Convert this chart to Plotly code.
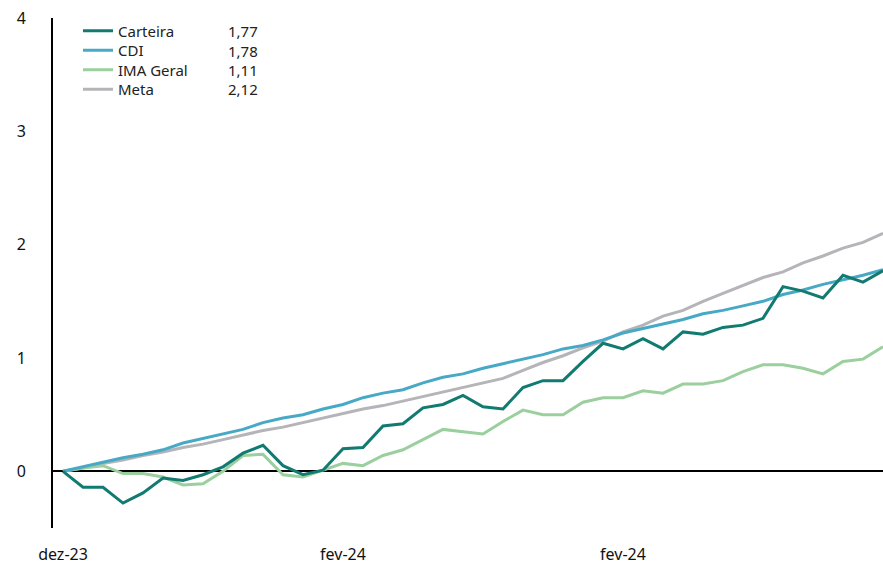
import plotly.graph_objects as go

# ---- data ----
idx = list(range(42))
tick_pos = [0, 14, 28]
tick_labels = ["dez-23", "fev-24", "fev-24"]

carteira = [0, -0.14, -0.14, -0.28, -0.19, -0.06, -0.08, -0.03, 0.04, 0.16, 0.23, 0.05, -0.03, 0.01,
            0.20, 0.21, 0.40, 0.42, 0.56, 0.59, 0.67, 0.57, 0.55, 0.74, 0.80, 0.80, 0.97, 1.13,
            1.08, 1.17, 1.08, 1.23, 1.21, 1.27, 1.29, 1.35, 1.63, 1.59, 1.53, 1.73, 1.67, 1.77]
cdi = [0, 0.04, 0.08, 0.12, 0.15, 0.19, 0.25, 0.29, 0.33, 0.37, 0.43, 0.47, 0.50, 0.55,
       0.59, 0.65, 0.69, 0.72, 0.78, 0.83, 0.86, 0.91, 0.95, 0.99, 1.03, 1.08, 1.11, 1.16,
       1.22, 1.26, 1.30, 1.34, 1.39, 1.42, 1.46, 1.50, 1.56, 1.60, 1.65, 1.69, 1.73, 1.78]
ima_geral = [0, 0.03, 0.05, -0.02, -0.02, -0.05, -0.12, -0.11, 0.0, 0.14, 0.15, -0.03, -0.05, 0.01,
             0.07, 0.05, 0.14, 0.19, 0.28, 0.37, 0.35, 0.33, 0.44, 0.54, 0.50, 0.50, 0.61, 0.65,
             0.65, 0.71, 0.69, 0.77, 0.77, 0.80, 0.88, 0.94, 0.94, 0.91, 0.86, 0.97, 0.99, 1.10]
meta = [0, 0.03, 0.07, 0.10, 0.14, 0.17, 0.21, 0.24, 0.28, 0.32, 0.36, 0.39, 0.43, 0.47,
        0.51, 0.55, 0.58, 0.62, 0.66, 0.70, 0.74, 0.78, 0.82, 0.89, 0.96, 1.02, 1.09, 1.15,
        1.23, 1.29, 1.37, 1.42, 1.50, 1.57, 1.64, 1.71, 1.76, 1.84, 1.90, 1.97, 2.02, 2.10]

series_names = ["Carteira", "CDI", "IMA Geral", "Meta"]
series_values = [carteira, cdi, ima_geral, meta]
legend_values = ["1,77", "1,78", "1,11", "2,12"]
colors = ["#117a71", "#47a9c5", "#9bcf9e", "#b4b4b9"]

FONT = "Noto Sans"

W, H = 883, 563
ml, mr, mt, mb = 53, 0, 18, 35
pw = W - ml - mr
ph = H - mt - mb

legend_ids = ["legend", "legend2", "legend3", "legend4"]
row_y = [31, 50.5, 70, 89.5]  # pixel centres of legend rows

fig = go.Figure()
# draw order: Meta, IMA, CDI, Carteira (Carteira on top)
for k in [3, 2, 1, 0]:
    fig.add_trace(go.Scatter(
        x=idx, y=series_values[k], mode="lines", name=series_names[k],
        line=dict(color=colors[k], width=3), legend=legend_ids[k],
    ))

layout_legends = {}
for k, lid in enumerate(legend_ids):
    layout_legends[lid] = dict(
        x=(78 - ml) / pw, y=1 + (mt - row_y[k]) / ph, xanchor="left", yanchor="middle",
        font=dict(size=15, family=FONT, color="#222222"),
        bgcolor="rgba(0,0,0,0)", itemwidth=30, borderwidth=0,
    )

fig.update_layout(
    width=W, height=H,
    margin=dict(l=ml, r=mr, t=mt, b=mb, pad=0, autoexpand=False),
    paper_bgcolor="white", plot_bgcolor="white",
    font=dict(family=FONT, size=16, color="#111111"),
    showlegend=True,
    xaxis=dict(
        range=[-0.5, 41], showgrid=False, zeroline=False, showline=False, automargin=False,
        tickmode="array", tickvals=tick_pos, ticktext=tick_labels,
        ticks="", ticklabelstandoff=15, tickfont=dict(size=16),
    ),
    yaxis=dict(
        range=[-0.5, 4], showgrid=False, zeroline=True, zerolinecolor="black", zerolinewidth=2,
        showline=True, linecolor="black", linewidth=2, automargin=False,
        tickmode="array", tickvals=[0, 1, 2, 3, 4], ticktext=["0", "1", "2", "3", "4"],
        ticks="", ticklabelstandoff=22, tickfont=dict(size=16),
    ),
    **layout_legends,
)

# legend value column
for i, v in enumerate(legend_values):
    fig.add_annotation(
        x=(226 - ml) / pw, xref="paper", xanchor="left",
        y=1 + (mt - row_y[i]) / ph, yref="paper", yanchor="middle",
        text=v, showarrow=False, font=dict(size=15, family=FONT, color="#222222"),
    )

fig.write_html(
    "out.html",
    config={"displayModeBar": False},
    post_script="document.body.style.margin='0';document.body.style.overflow='hidden';",
)
